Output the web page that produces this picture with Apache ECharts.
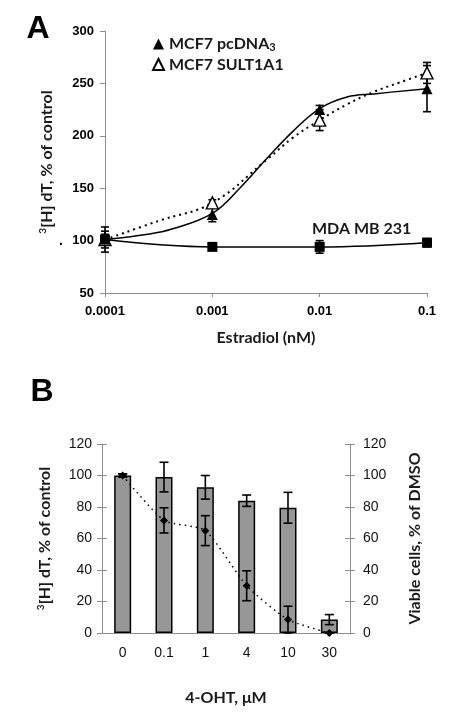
<!DOCTYPE html>
<html><head><meta charset="utf-8">
<script src="https://cdn.jsdelivr.net/npm/echarts@6/dist/echarts.min.js"></script>
<style>html,body{margin:0;padding:0;background:#fff}#c{width:468px;height:716px}</style>
</head><body><div id="c"></div>
<script>
// ---------- Panel A data ----------
const estradiolNM = [0.0001, 0.001, 0.01, 0.1];
const estradiolTickLabels = ['0.0001', '0.001', '0.01', '0.1'];
const pcdnaMean = [101, 125, 225, 245];
const pcdnaErr = [12, 7, 4, 22];
const sultMean = [101, 136, 215, 260];
const sultErr = [8, 3, 10, 10];
const mdaMean = [101, 94, 94, 98];
const mdaErr = [5, 3, 6, 4];
// fitted curves as drawn in the figure
const pcdnaFitX = [0.0001, 0.00025, 0.00042, 0.001, 0.0018, 0.0032, 0.0056, 0.01, 0.018, 0.032, 0.1];
const pcdnaFitY = [101, 106, 111, 126, 150, 178, 204, 226, 237, 240, 245];
const sultFitX = [0.0001, 0.00032, 0.001, 0.0032, 0.0056, 0.01, 0.018, 0.032, 0.056, 0.1];
const sultFitY = [101, 119, 136, 177, 198, 215, 230, 242, 251, 260];
// ---------- Panel B data ----------
const ohtDoses = ['0', '0.1', '1', '4', '10', '30'];
const thymidine = [100, 99, 92.5, 84, 79.5, 8.5];
const thymidineErr = [1, 9.4, 7.5, 3.6, 9.8, 3.2];
const viable = [100, 71.5, 65, 30, 8.5, 0];
const viableErr = [1, 8, 9.5, 9.5, 8.5, 0];

const zip = (a, b) => a.map((v, i) => [v, b[i]]);
const errData = (xs, m, e) => xs.map((x, i) => [x, m[i] - e[i], m[i] + e[i]]);
function errRender(capHalf) {
  return function (params, api) {
    const x = api.value(0), lo = api.value(1), hi = api.value(2);
    const p1 = api.coord([x, hi]), p2 = api.coord([x, lo]);
    const style = { stroke: '#000', lineWidth: 1.6 };
    return { type: 'group', children: [
      { type: 'line', shape: { x1: p1[0], y1: p1[1], x2: p2[0], y2: p2[1] }, style },
      { type: 'line', shape: { x1: p1[0] - capHalf, y1: p1[1], x2: p1[0] + capHalf, y2: p1[1] }, style },
      { type: 'line', shape: { x1: p2[0] - capHalf, y1: p2[1], x2: p2[0] + capHalf, y2: p2[1] }, style }
    ] };
  };
}
const axisGray = '#8c8c8c';
const titleFont = { fontFamily: 'Lato', fontWeight: 'bold', fontSize: 16, color: '#1a1a1a',
  rich: { sup: { fontFamily: 'Lato', fontWeight: 'bold', fontSize: 10, verticalAlign: 'top', padding: [0, 0, 7, 0], color: '#1a1a1a' } } };

const chart = echarts.init(document.getElementById('c'), null, { renderer: 'canvas' });
chart.setOption({
  animation: false,
  backgroundColor: '#fff',
  grid: [
    { left: 105, top: 31, width: 322, height: 262 },
    { left: 102, top: 444, width: 248, height: 189 }
  ],
  legend: {
    left: 147, top: 31, orient: 'vertical', itemGap: 4, itemWidth: 11, itemHeight: 11,
    data: ['MCF7 pcDNA3', 'MCF7 SULT1A1'],
    formatter: n => n === 'MCF7 pcDNA3' ? 'MCF7 pcDNA{s|3}' : n,
    textStyle: { fontFamily: 'Lato', fontWeight: 'bold', fontSize: 16, color: '#1a1a1a',
      rich: { s: { fontFamily: 'Lato', fontWeight: 'bold', fontSize: 11, verticalAlign: 'bottom', padding: [6, 0, 0, 0], color: '#1a1a1a' } } }
  },
  xAxis: [
    { gridIndex: 0, type: 'log', logBase: 10, min: 0.0001, max: 0.1,
      axisLine: { lineStyle: { color: axisGray } },
      axisTick: { length: 4, lineStyle: { color: axisGray } },
      splitLine: { show: false }, minorTick: { show: false },
      axisLabel: { margin: 12, fontFamily: 'Liberation Sans', fontWeight: 'bold', fontSize: 13, color: '#000',
        formatter: v => { const i = estradiolNM.findIndex(e => Math.abs(Math.log10(e) - Math.log10(v)) < 0.01); return i >= 0 ? estradiolTickLabels[i] : ''; } },
      name: 'Estradiol (nM)', nameLocation: 'middle', nameGap: 37, nameTextStyle: titleFont },
    { gridIndex: 1, type: 'category', data: ohtDoses, boundaryGap: true,
      axisLine: { lineStyle: { color: axisGray } },
      axisTick: { length: 4, lineStyle: { color: axisGray } },
      axisLabel: { margin: 13, fontFamily: 'Liberation Sans', fontSize: 14, color: '#111' },
      name: '4-OHT, μM', nameLocation: 'middle', nameGap: 57, nameTextStyle: titleFont }
  ],
  yAxis: [
    { gridIndex: 0, type: 'value', min: 50, max: 300, interval: 50,
      axisLine: { show: true, lineStyle: { color: axisGray } },
      axisTick: { show: true, length: 5, lineStyle: { color: axisGray } },
      splitLine: { show: false },
      axisLabel: { margin: 11, fontFamily: 'Liberation Sans', fontWeight: 'bold', fontSize: 13, color: '#000' },
      name: '{sup|3}[H] dT, % of control', nameLocation: 'middle', nameGap: 50, nameRotate: 90, nameTextStyle: titleFont },
    { gridIndex: 1, type: 'value', position: 'left', min: 0, max: 120, interval: 20,
      axisLine: { show: true, lineStyle: { color: axisGray } },
      axisTick: { show: true, length: 5, lineStyle: { color: axisGray } },
      splitLine: { show: false },
      axisLabel: { margin: 10, fontFamily: 'Liberation Sans', fontSize: 14, color: '#111' },
      name: '{sup|3}[H] dT, % of control', nameLocation: 'middle', nameGap: 49, nameRotate: 90, nameTextStyle: titleFont },
    { gridIndex: 1, type: 'value', position: 'right', min: 0, max: 120, interval: 20,
      axisLine: { show: true, lineStyle: { color: axisGray } },
      axisTick: { show: true, length: 5, lineStyle: { color: axisGray } },
      splitLine: { show: false },
      axisLabel: { margin: 13, fontFamily: 'Liberation Sans', fontSize: 14, color: '#111' },
      name: 'Viable cells, % of DMSO', nameLocation: 'middle', nameGap: 57, nameRotate: 90, nameTextStyle: titleFont },
    { gridIndex: 1, type: 'value', position: 'left', min: 0, max: 120, interval: 20,
      axisLine: { show: false }, axisLabel: { show: false }, splitLine: { show: false },
      axisTick: { show: true, inside: true, length: 5, lineStyle: { color: axisGray } } },
    { gridIndex: 1, type: 'value', position: 'right', min: 0, max: 120, interval: 20,
      axisLine: { show: false }, axisLabel: { show: false }, splitLine: { show: false },
      axisTick: { show: true, inside: true, length: 5, lineStyle: { color: axisGray } } }
  ],
  series: [
    // Panel A fitted curves
    { type: 'line', xAxisIndex: 0, yAxisIndex: 0, data: zip(pcdnaFitX, pcdnaFitY), smooth: 0.4, showSymbol: false,
      lineStyle: { color: '#000', width: 1.5 }, z: 2 },
    { type: 'line', xAxisIndex: 0, yAxisIndex: 0, data: zip(sultFitX, sultFitY), smooth: 0.4, showSymbol: false,
      lineStyle: { color: '#000', width: 2, type: [2, 4] }, z: 2 },
    { type: 'line', xAxisIndex: 0, yAxisIndex: 0, data: zip(estradiolNM, mdaMean), smooth: 0.4, showSymbol: false,
      lineStyle: { color: '#000', width: 1.5 }, z: 2 },
    // Panel A error bars
    { type: 'custom', xAxisIndex: 0, yAxisIndex: 0, renderItem: errRender(4), data: errData(estradiolNM, pcdnaMean, pcdnaErr), encode: { x: 0, y: [1, 2] }, z: 3 },
    { type: 'custom', xAxisIndex: 0, yAxisIndex: 0, renderItem: errRender(4), data: errData(estradiolNM, sultMean, sultErr), encode: { x: 0, y: [1, 2] }, z: 3 },
    { type: 'custom', xAxisIndex: 0, yAxisIndex: 0, renderItem: errRender(4), data: errData(estradiolNM, mdaMean, mdaErr), encode: { x: 0, y: [1, 2] }, z: 3 },
    // Panel A markers
    { name: 'MCF7 pcDNA3', type: 'scatter', xAxisIndex: 0, yAxisIndex: 0, data: zip(estradiolNM, pcdnaMean), symbol: 'triangle', symbolSize: 11,
      itemStyle: { color: '#000', opacity: 1 }, z: 5 },
    { name: 'MCF7 SULT1A1', type: 'scatter', xAxisIndex: 0, yAxisIndex: 0, data: zip(estradiolNM, sultMean), symbol: 'triangle', symbolSize: 12,
      itemStyle: { color: '#ffffff', borderColor: '#000', borderWidth: 1.4, opacity: 1 }, z: 5 },
    { name: 'MDA MB 231', type: 'scatter', xAxisIndex: 0, yAxisIndex: 0, data: zip(estradiolNM, mdaMean), symbol: 'rect', symbolSize: 10,
      itemStyle: { color: '#000', opacity: 1 }, z: 5 },
    // Panel B
    { type: 'bar', xAxisIndex: 1, yAxisIndex: 1, data: thymidine, barWidth: 17,
      itemStyle: { color: '#979797', borderColor: '#000', borderWidth: 1.5 }, z: 2 },
    { type: 'custom', xAxisIndex: 1, yAxisIndex: 1, renderItem: errRender(4.5), data: errData(ohtDoses.map((d, i) => i), thymidine, thymidineErr), encode: { x: 0, y: [1, 2] }, z: 3 },
    { type: 'line', xAxisIndex: 1, yAxisIndex: 2, data: viable, smooth: 0.2, symbol: 'diamond', symbolSize: 8,
      itemStyle: { color: '#000' }, lineStyle: { color: '#000', width: 1.5, type: [1.5, 4] }, z: 4 },
    { type: 'custom', xAxisIndex: 1, yAxisIndex: 2, renderItem: errRender(4.5), data: errData(ohtDoses.map((d, i) => i), viable, viableErr), encode: { x: 0, y: [1, 2] }, z: 4 }
  ],
  graphic: [
    { type: 'text', x: 38, y: 29, style: { text: 'A', font: 'bold 32px "Liberation Sans"', fill: '#000', align: 'center', verticalAlign: 'middle' } },
    { type: 'text', x: 42, y: 392, style: { text: 'B', font: 'bold 32px "Liberation Sans"', fill: '#000', align: 'center', verticalAlign: 'middle' } },
    { type: 'text', x: 312, y: 229, style: { text: 'MDA MB 231', font: 'bold 16px Lato', fill: '#1a1a1a', align: 'left', verticalAlign: 'middle' } },
    { type: 'text', x: 61, y: 241, style: { text: '.', font: 'bold 14px "Liberation Sans"', fill: '#000', align: 'center', verticalAlign: 'middle' } }
  ]
});
</script></body></html>
